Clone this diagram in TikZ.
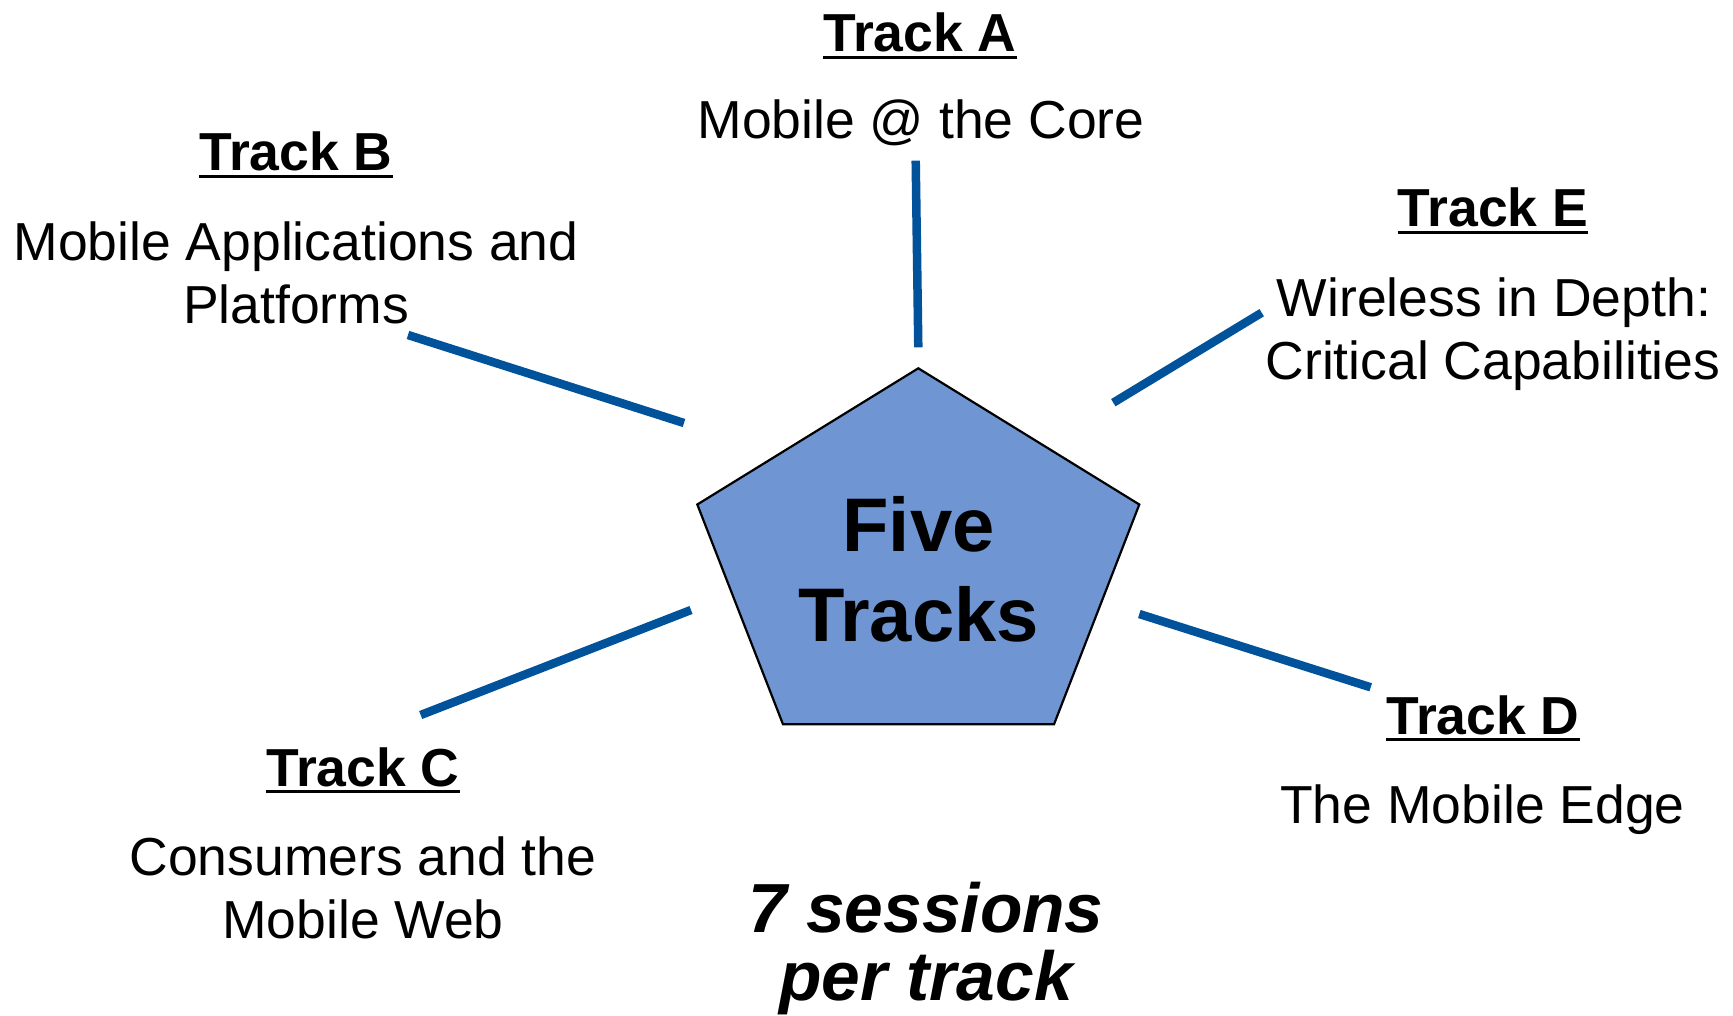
\documentclass[tikz,border=0pt]{standalone}
\usepackage{fontspec}
\setmainfont{Liberation Sans}
\definecolor{spokeblue}{RGB}{0,82,155}
\definecolor{pentfill}{RGB}{111,150,211}
\begin{document}
\begin{tikzpicture}[x=1pt,y=-1pt,
  ttl/.style={font=\fontsize{53.5}{64}\selectfont\bfseries, anchor=base, inner sep=0pt},
  desc/.style={font=\fontsize{53.5}{64}\selectfont, anchor=base, inner sep=0pt},
  centre/.style={font=\fontsize{76}{90}\selectfont\bfseries, anchor=base, inner sep=0pt},
  note/.style={font=\fontsize{69.5}{72}\selectfont\bfseries\itshape, anchor=base, inner sep=0pt},
  spoke/.style={line width=8.5pt, draw=spokeblue},
  uline/.style={line width=3.8pt, draw=black}]
\useasboundingbox (0,0) rectangle (1733,1016);
\fill[white] (0,0) rectangle (1733,1016);

% pentagon
\coordinate (pT) at (918.3,368.3);
\coordinate (pR) at (1139.3,504.5);
\coordinate (pBR) at (1054,724.3);
\coordinate (pBL) at (783,724.3);
\coordinate (pL) at (697.3,504.5);
\draw[fill=pentfill, line width=2.2pt, line join=miter] (pT) -- (pR) -- (pBR) -- (pBL) -- (pL) -- cycle;
\node[centre] (five) at (918.5,551.7) {Five};
\node[centre] (tracks) at (918.5,641) {Tracks};

% spokes
\coordinate (a1) at (915.7,160.7); \coordinate (a2) at (918.3,347.3);
\coordinate (b1) at (408,335);     \coordinate (b2) at (684,423);
\coordinate (e1) at (1261.7,312.7);\coordinate (e2) at (1113.3,402.7);
\coordinate (d1) at (1139.3,614);  \coordinate (d2) at (1370.7,687.3);
\coordinate (c1) at (420.7,715);   \coordinate (c2) at (691,610);
\draw[spoke] (a1) -- (a2);
\draw[spoke] (b1) -- (b2);
\draw[spoke] (e1) -- (e2);
\draw[spoke] (d1) -- (d2);
\draw[spoke] (c1) -- (c2);

% Track A
\node[ttl] (tA) at (920,52) {Track A};
\draw[uline] ([yshift=-5.5pt]tA.base west) -- ([yshift=-5.5pt]tA.base east);
\node[desc] (dA) at (921,139) {Mobile @ the Core};

% Track B
\node[ttl] (tB) at (296,171) {Track B};
\draw[uline] ([yshift=-5.5pt]tB.base west) -- ([yshift=-5.5pt]tB.base east);
\node[desc] (dB1) at (296,261) {Mobile Applications and};
\node[desc] (dB2) at (296,324) {Platforms};

% Track E
\node[ttl] (tE) at (1493,227) {Track E};
\draw[uline] ([yshift=-5.5pt]tE.base west) -- ([yshift=-5.5pt]tE.base east);
\node[desc] (dE1) at (1494,317) {Wireless in Depth:};
\node[desc] (dE2) at (1493,380) {Critical Capabilities};

% Track D
\node[ttl] (tD) at (1483,734) {Track D};
\draw[uline] ([yshift=-5.5pt]tD.base west) -- ([yshift=-5.5pt]tD.base east);
\node[desc] (dD) at (1482.5,823) {The Mobile Edge};

% Track C
\node[ttl] (tC) at (363,786) {Track C};
\draw[uline] ([yshift=-5.5pt]tC.base west) -- ([yshift=-5.5pt]tC.base east);
\node[desc] (dC1) at (363,875) {Consumers and the};
\node[desc] (dC2) at (363,938) {Mobile Web};

% note
\node[note] (n1) at (926,932) {7 sessions};
\node[note] (n2) at (926,1000) {per track};
\end{tikzpicture}
\end{document}
